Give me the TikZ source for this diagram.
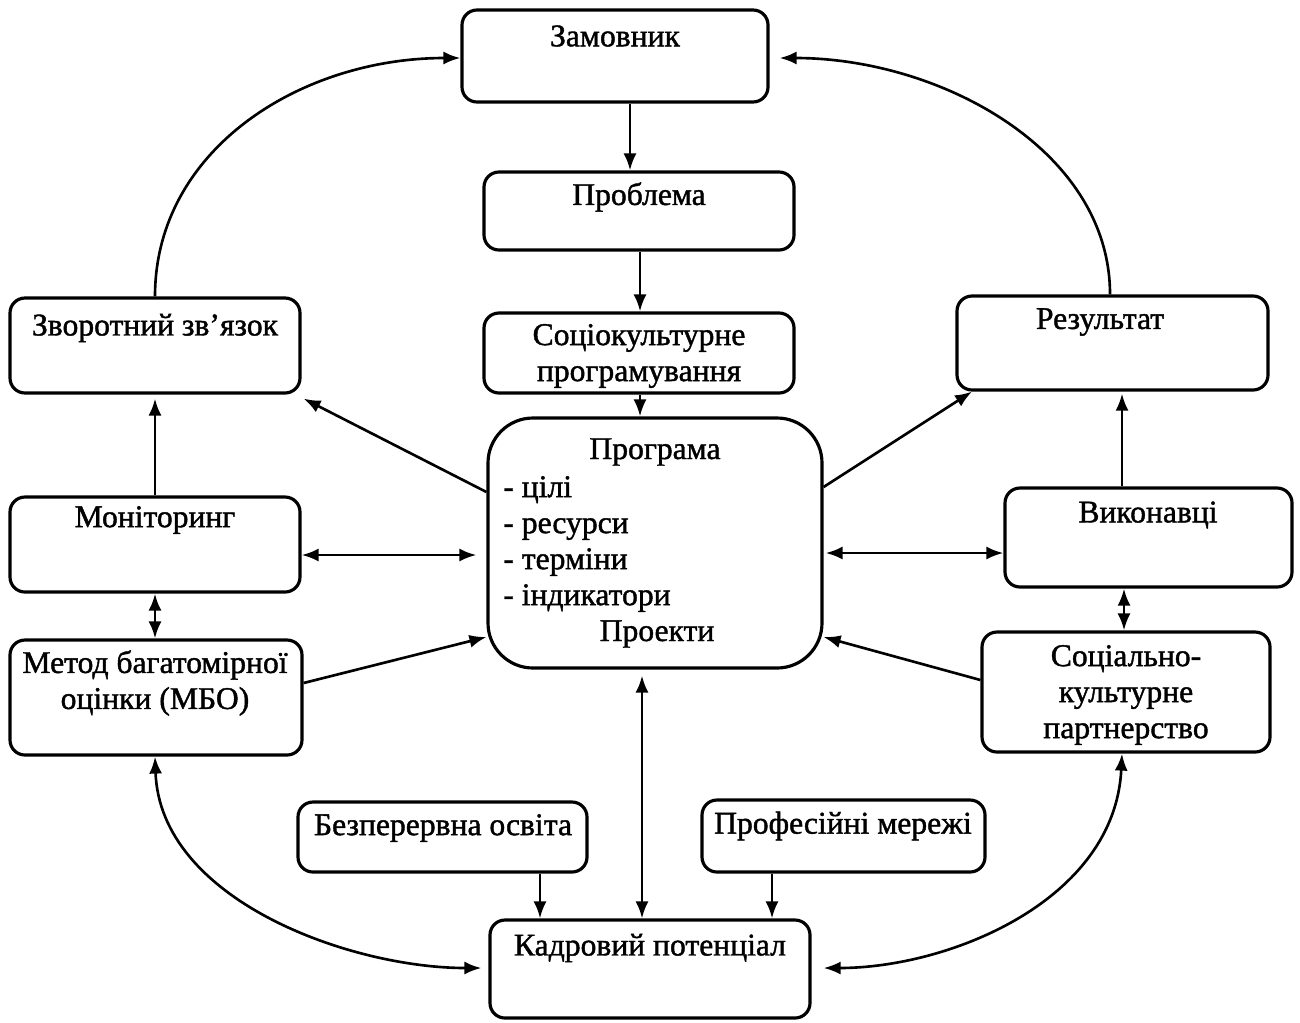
\documentclass[tikz,border=0pt]{standalone}
\usepackage{fontspec}
\setmainfont{Liberation Serif}[BoldFont=Liberation Serif, BoldFeatures={FakeBold=1.3}]
\usetikzlibrary{fit,arrows.meta}
\begin{document}
\begin{tikzpicture}[x=0.02cm,y=-0.02cm,
 box/.style={draw, line width=1.8pt, rounded corners=0.3cm, inner sep=0pt},
 bigbox/.style={box, rounded corners=0.9cm},
 txt/.style={font=\fontsize{18}{20.5}\selectfont\bfseries, align=center, inner sep=0pt},
 tip/.tip={Latex[length=0.34cm,width=0.26cm]},
 arr/.style={line width=1.5pt, -tip},
 darr/.style={line width=1.5pt, tip-tip}]
\useasboundingbox (0,0) rectangle (1300,1022);

% boxes
\node[box, fit={(462,10) (768,102)}] (zam) {};
\node[box, fit={(484,172) (794,250)}] (prob) {};
\node[box, fit={(484,313) (794,393)}] (soc) {};
\node[bigbox, fit={(488,418) (822,668)}] (prog) {};
\node[box, fit={(10,298) (300,393)}] (zvo) {};
\node[box, fit={(10,497) (300,592)}] (mon) {};
\node[box, fit={(10,640) (302,755)}] (met) {};
\node[box, fit={(957,296) (1268,390)}] (res) {};
\node[box, fit={(1005,488) (1292,587)}] (vyk) {};
\node[box, fit={(982,632) (1270,752)}] (par) {};
\node[box, fit={(298,802) (587,872)}] (bez) {};
\node[box, fit={(702,800) (985,872)}] (prof) {};
\node[box, fit={(490,920) (810,1018)}] (kad) {};

% texts
\node[txt] (zamT) at (615,36) {Замовник};
\node[txt] (probT) at (639,197) {Проблема};
\node[txt] (socT) at (639,356) {Соціокультурне\\програмування};
\node[txt] (progH) at (655,452) {Програма};
\node[txt, align=left, anchor=west] (progL) at (503,544) {- цілі\\- ресурси\\- терміни\\- індикатори};
\node[txt] (progF) at (657,634) {Проекти};
\node[txt] (zvoT) at (155,328) {Зворотний зв’язок};
\node[txt] (monT) at (155,520) {Моніторинг};
\node[txt] (metT) at (155,683) {Метод багатомірної\\оцінки (МБО)};
\node[txt] (resT) at (1100,322) {Результат};
\node[txt] (vykT) at (1148,515) {Виконавці};
\node[txt] (parT) at (1126,695) {Соціально-\\культурне\\партнерство};
\node[txt] (bezT) at (443,828) {Безперервна освіта};
\node[txt] (profT) at (843,826) {Професійні мережі};
\node[txt] (kadT) at (650,948) {Кадровий потенціал};

% vertical chain
\draw[arr] (630,0 |- zam.south) -- (630,0 |- prob.north);
\draw[arr] (640,0 |- prob.south) -- (640,0 |- soc.north);
\draw[arr] (640,0 |- soc.south) -- (640,0 |- prog.north);
\draw[darr] ([yshift=-0.12cm]642,0 |- prog.south) -- (642,0 |- kad.north);
\draw[arr] (540,0 |- bez.south) -- (540,0 |- kad.north);
\draw[arr] (772,0 |- prof.south) -- (772,0 |- kad.north);

% left column
\draw[arr] (155,0 |- mon.north) -- ([yshift=-0.08cm]155,0 |- zvo.south);
\draw[darr] (155,0 |- mon.south) -- (155,0 |- met.north);
\draw[arr] (prog.west |- 0,492) -- ([shift={(0.04cm,-0.08cm)}]zvo.south east);
\draw[darr] (mon.east |- 0,555) -- ([xshift=-0.2cm]prog.west |- 0,555);
\draw[arr] (met.east |- 0,683) -- (prog.west |- 0,637);

% right column
\draw[arr] (1122,0 |- vyk.north) -- ([yshift=-0.04cm]1122,0 |- res.south);
\draw[darr] (1124,0 |- vyk.south) -- (1124,0 |- par.north);
\draw[arr] (prog.east |- 0,487) -- (972,0 |- res.south);
\draw[darr] ([xshift=0.04cm]prog.east |- 0,553) -- (vyk.west |- 0,553);
\draw[arr] (par.west |- 0,680) -- (prog.east |- 0,637);

% curves
\draw[arr] (155,0 |- zvo.north) .. controls (155,150) and (300,58) .. (zam.west |- 0,58);
\draw[arr] (1110,0 |- res.north) .. controls (1110,150) and (940,58) .. ([xshift=0.2cm]zam.east |- 0,58);
\draw[darr] (155,0 |- met.south) .. controls (160,900) and (350,968) .. ([xshift=-0.14cm]kad.west |- 0,968);
\draw[darr] (1122,0 |- par.south) .. controls (1115,900) and (950,968) .. ([xshift=0.24cm]kad.east |- 0,968);
\end{tikzpicture}
\end{document}
